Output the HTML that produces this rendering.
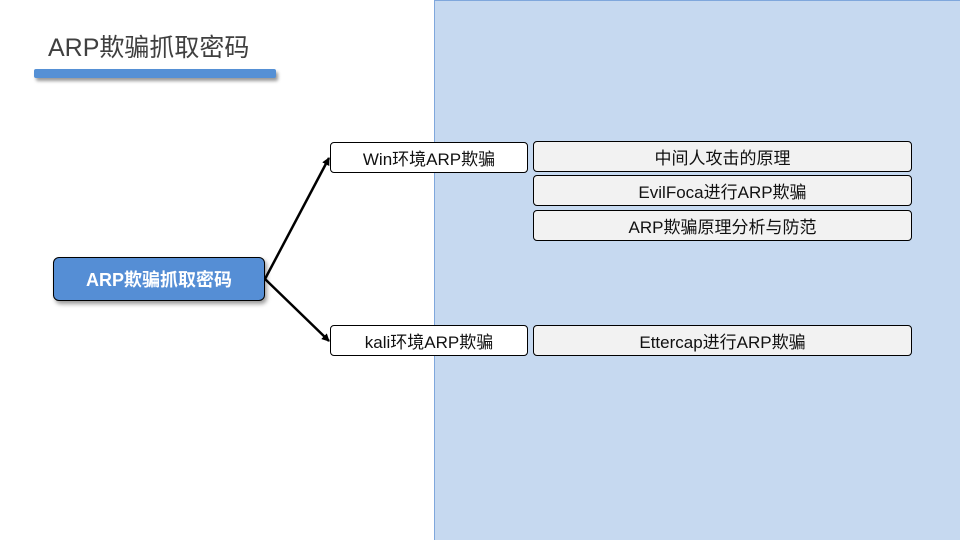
<!DOCTYPE html>
<html><head><meta charset="utf-8"><style>
body{margin:0;width:960px;height:540px;position:relative;overflow:hidden;background:#fff;font-family:"Liberation Sans","Noto Sans CJK SC",sans-serif;}
.abs{position:absolute;box-sizing:border-box;}
.box{position:absolute;box-sizing:border-box;border:1px solid #000;border-radius:4px;display:flex;align-items:center;justify-content:center;font-size:17px;color:#111;}
.w{background:#fff;}
.g{background:#f2f2f2;}
</style></head><body>
<div class="abs" style="left:434px;top:0;width:526px;height:540px;background:#c6d9f0;border-left:1px solid #7fa7dc;border-top:1px solid #7fa7dc;"></div>
<div class="abs" style="left:48px;top:28px;font-size:25px;color:#404040;">ARP欺骗抓取密码</div>
<div class="abs" style="left:34px;top:69px;width:242px;height:9px;background:#5590d5;border-radius:2px;box-shadow:2px 3px 3px rgba(0,0,0,0.4);"></div>
<svg class="abs" style="left:0;top:0" width="960" height="540">
<defs><marker id="a" markerWidth="8" markerHeight="8" refX="7" refY="4" orient="auto" markerUnits="userSpaceOnUse"><path d="M0,0L8,4L0,8z" fill="#000"/></marker></defs>
<line x1="265" y1="279" x2="329" y2="158" stroke="#000" stroke-width="2.5" marker-end="url(#a)"/>
<line x1="265" y1="279" x2="329" y2="341" stroke="#000" stroke-width="2.5" marker-end="url(#a)"/>
</svg>
<div class="box" style="left:53px;top:257px;width:212px;height:44px;background:#558ed5;color:#fff;font-weight:bold;font-size:18px;border-radius:6px;box-shadow:2px 3px 4px rgba(0,0,0,0.4);">ARP欺骗抓取密码</div>
<div class="box w" style="left:330px;top:142px;width:198px;height:31px;">Win环境ARP欺骗</div>
<div class="box w" style="left:330px;top:325px;width:198px;height:31px;">kali环境ARP欺骗</div>
<div class="box g" style="left:533px;top:141px;width:379px;height:31px;">中间人攻击的原理</div>
<div class="box g" style="left:533px;top:175px;width:379px;height:31px;">EvilFoca进行ARP欺骗</div>
<div class="box g" style="left:533px;top:210px;width:379px;height:31px;">ARP欺骗原理分析与防范</div>
<div class="box g" style="left:533px;top:325px;width:379px;height:31px;">Ettercap进行ARP欺骗</div>
</body></html>
